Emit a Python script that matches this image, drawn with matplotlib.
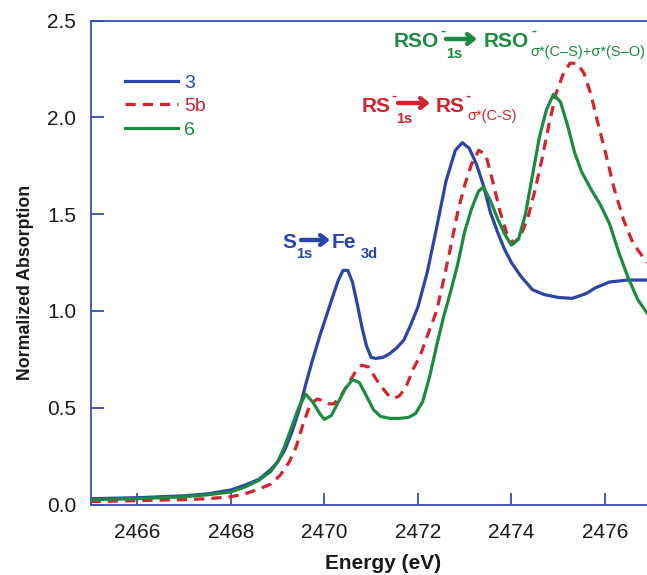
import matplotlib
matplotlib.use("Agg")
import matplotlib.pyplot as plt

plt.rcParams['font.family'] = ['Liberation Sans', 'DejaVu Sans']

# ---------------- data ----------------
e3 = [2465.0, 2466.0, 2467.0, 2467.5, 2468.0, 2468.3, 2468.6, 2468.85, 2469.0, 2469.15, 2469.3,
      2469.45, 2469.6, 2469.75, 2469.9, 2470.05, 2470.2, 2470.3, 2470.4, 2470.5, 2470.6, 2470.7,
      2470.8, 2470.9, 2471.0, 2471.1, 2471.25, 2471.4, 2471.55, 2471.7, 2471.85, 2472.0, 2472.2,
      2472.4, 2472.6, 2472.8, 2472.95, 2473.1, 2473.25, 2473.4, 2473.55, 2473.7, 2473.85, 2474.0,
      2474.2, 2474.45, 2474.7, 2475.0, 2475.3, 2475.6, 2475.8, 2476.1, 2476.5, 2476.9]
a3 = [0.03, 0.035, 0.045, 0.055, 0.075, 0.1, 0.13, 0.18, 0.22, 0.28, 0.37,
      0.48, 0.62, 0.75, 0.87, 0.98, 1.09, 1.16, 1.21, 1.21, 1.15, 1.04,
      0.92, 0.82, 0.76, 0.755, 0.76, 0.78, 0.81, 0.85, 0.93, 1.02, 1.2,
      1.43, 1.67, 1.83, 1.87, 1.84, 1.76, 1.65, 1.51, 1.41, 1.32, 1.25,
      1.18, 1.11, 1.085, 1.07, 1.065, 1.09, 1.12, 1.15, 1.16, 1.16]

e5b = [2465.0, 2466.0, 2467.0, 2467.5, 2468.0, 2468.3, 2468.6, 2468.85, 2469.05, 2469.25, 2469.4,
       2469.55, 2469.7, 2469.85, 2470.0, 2470.1, 2470.2, 2470.35, 2470.5, 2470.65, 2470.8, 2470.95,
       2471.1, 2471.25, 2471.4, 2471.5, 2471.6, 2471.75, 2471.9, 2472.05, 2472.2, 2472.4, 2472.55,
       2472.7, 2472.85, 2473.0, 2473.15, 2473.3, 2473.45, 2473.6, 2473.75, 2473.9, 2474.05, 2474.2,
       2474.35, 2474.5, 2474.65, 2474.8, 2474.95, 2475.1, 2475.25, 2475.4, 2475.55, 2475.7, 2475.85,
       2476.0, 2476.2, 2476.4, 2476.6, 2476.9]
a5b = [0.015, 0.02, 0.025, 0.03, 0.04, 0.055, 0.08, 0.105, 0.15, 0.22, 0.3,
       0.42, 0.52, 0.545, 0.535, 0.52, 0.52, 0.56, 0.62, 0.68, 0.72, 0.71,
       0.65, 0.6, 0.555, 0.55, 0.56, 0.61, 0.7, 0.77, 0.87, 1.0, 1.16,
       1.33, 1.51, 1.65, 1.76, 1.83, 1.81, 1.67, 1.52, 1.40, 1.35, 1.39,
       1.48, 1.62, 1.78, 1.96, 2.12, 2.22, 2.28, 2.28, 2.23, 2.12, 1.97,
       1.83, 1.63, 1.47, 1.35, 1.25]

e6 = [2465.0, 2466.0, 2467.0, 2467.5, 2468.0, 2468.3, 2468.6, 2468.85, 2469.0, 2469.15, 2469.3,
      2469.45, 2469.6, 2469.75, 2469.9, 2470.0, 2470.15, 2470.3, 2470.45, 2470.6, 2470.75, 2470.9,
      2471.05, 2471.2, 2471.4, 2471.6, 2471.8, 2471.95, 2472.1, 2472.25, 2472.4, 2472.55, 2472.7,
      2472.85, 2473.0, 2473.15, 2473.3, 2473.4, 2473.55, 2473.7, 2473.85, 2474.0, 2474.15, 2474.3,
      2474.45, 2474.6, 2474.75, 2474.9, 2475.05, 2475.2, 2475.35, 2475.5, 2475.7, 2475.9, 2476.1,
      2476.3, 2476.5, 2476.7, 2476.9]
a6 = [0.025, 0.03, 0.04, 0.05, 0.065, 0.09, 0.125, 0.17, 0.22, 0.3, 0.4,
      0.5, 0.57, 0.53, 0.47, 0.44, 0.46, 0.53, 0.6, 0.645, 0.63, 0.56,
      0.49, 0.455, 0.445, 0.445, 0.45, 0.47, 0.53, 0.66, 0.82, 0.97, 1.10,
      1.24, 1.41, 1.53, 1.62, 1.64, 1.57, 1.48, 1.40, 1.34, 1.37, 1.50,
      1.70, 1.90, 2.04, 2.12, 2.08, 1.96, 1.82, 1.72, 1.63, 1.55, 1.45,
      1.30, 1.17, 1.06, 0.99]

series_labels = ["3", "5b", "6"]
x_ticks = [2466, 2468, 2470, 2472, 2474, 2476]
y_ticks = [0.0, 0.5, 1.0, 1.5, 2.0, 2.5]

# ---------------- style ----------------
BLUE = "#2c44a8"
RED = "#d2232f"
GREEN = "#1c8a42"
AXC = "#3a4db3"
W, H = 647, 575

fig = plt.figure(figsize=(W / 100, H / 100), dpi=100)
ax = fig.add_axes([90.6 / W, 1 - 504.5 / H, 1 - 90.6 / W, (504.5 - 20.7) / H])

ax.plot(e3, a3, color=BLUE, lw=2.3, label=series_labels[0], zorder=3)
ax.plot(e5b, a5b, color=RED, lw=2.3, ls=(0, (3.2, 2.2)), label=series_labels[1], zorder=2)
ax.plot(e6, a6, color=GREEN, lw=2.3, label=series_labels[2], zorder=4)

ax.set_xlim(2465, 2476.9)
ax.set_ylim(0, 2.5)
ax.set_xticks(x_ticks)
ax.set_yticks(y_ticks)
ax.set_yticklabels([f"{v:.1f}" for v in y_ticks])

for s in ['left', 'bottom', 'top']:
    ax.spines[s].set_color(AXC)
    ax.spines[s].set_linewidth(1.3)
ax.spines['right'].set_visible(False)
ax.tick_params(axis='both', direction='in', color=AXC, width=1.3, length=9,
               labelsize=15, labelcolor='#1a1a1a')
ax.tick_params(axis='x', pad=13)
ax.tick_params(axis='y', pad=10.5)

ax.set_xlabel("Energy (eV)", fontsize=15, fontweight='bold', color='#1a1a1a',
              labelpad=9, x=(383 - 90.6) / (W - 90.6))
ax.set_ylabel("Normalized Absorption", fontsize=12.8, fontweight='bold', color='#1a1a1a',
              labelpad=9, y=(504.5 - 282) / (504.5 - 20.7))

leg = ax.legend(loc='upper left', bbox_to_anchor=(125 / W, 1 - 74 / H),
                bbox_transform=fig.transFigure, frameon=False, fontsize=14,
                handlelength=2.75, handletextpad=0.3, labelspacing=0.3,
                borderpad=0, borderaxespad=0)
for txt, c in zip(leg.get_texts(), [BLUE, RED, GREEN]):
    txt.set_color(c)


# ---------------- annotations ----------------
def ftext(x, y, s, color, size, weight='bold'):
    fig.text(x / W, 1 - y / H, s, color=color, fontsize=size, fontweight=weight,
             ha='left', va='baseline')


def farrow(x0, x1, y, color):
    ax.annotate('', xy=(x1, H - y), xytext=(x0, H - y), xycoords='figure pixels',
                textcoords='figure pixels',
                arrowprops=dict(arrowstyle='->,head_length=0.45,head_width=0.35',
                                color=color, lw=3.2, shrinkA=0, shrinkB=0))


# S1s -> Fe3d
ftext(282, 248, "S", BLUE, 15)
ftext(296, 258, "1s", BLUE, 10.5)
farrow(301, 330, 240, BLUE)
ftext(332, 248, "Fe", BLUE, 15)
ftext(361, 258, "3d", BLUE, 10.5)

# RS- 1s -> RS- sigma*(C-S)
ftext(362, 112, "RS", RED, 15)
ftext(391, 100, "-", RED, 11)
ftext(396, 123, "1s", RED, 10.5)
farrow(398, 430, 103, RED)
ftext(436, 112, "RS", RED, 15)
ftext(465, 100, "-", RED, 11)
ftext(467, 120, "σ*(C-S)", RED, 10.5, 'normal')

# RSO- 1s -> RSO- sigma*(C-S)+sigma*(S-O)
ftext(394, 47, "RSO", GREEN, 15)
ftext(440, 35, "-", GREEN, 11)
ftext(446, 58, "1s", GREEN, 10.5)
farrow(446, 477, 39, GREEN)
ftext(484, 47, "RSO", GREEN, 15)
ftext(531, 35, "-", GREEN, 11)
ftext(530, 56, "σ*(C–S)+σ*(S–O)", GREEN, 10.5, 'normal')

fig.savefig("out.png", dpi=100)
